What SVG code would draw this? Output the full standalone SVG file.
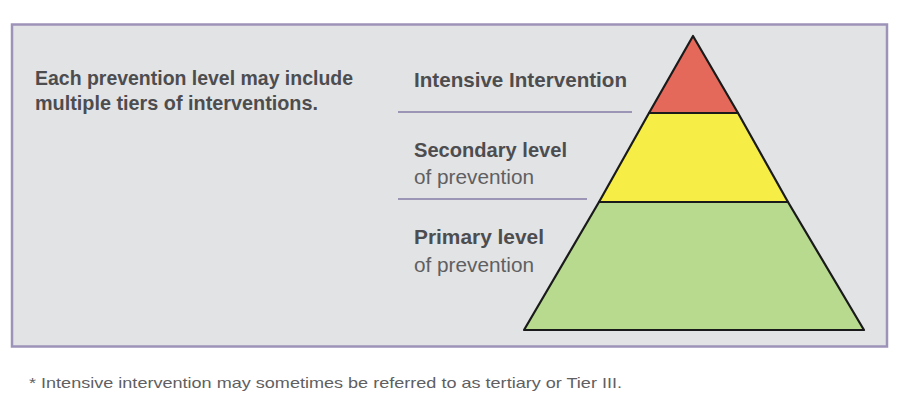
<svg xmlns="http://www.w3.org/2000/svg" width="903" height="401" viewBox="0 0 903 401">
<style>
.t{font-family:"Liberation Sans Narrow","Liberation Sans",Arial,sans-serif;fill:#555557}
.b{font-weight:bold;font-size:20.5px;fill:#4d4d4f}
.r{font-size:20px;fill:#5f5f61}
.f{font-size:14.5px;fill:#606062}
.tier{stroke:#1a1a1a;stroke-width:2.2;stroke-linejoin:round}
.rule{stroke:#9d95b5;stroke-width:2}
</style>
<rect x="0" y="0" width="903" height="401" fill="#ffffff"/>
<rect id="frame" x="12" y="24.5" width="875" height="322" fill="#e2e3e5" stroke="#9d93b8" stroke-width="2.5"/>
<g id="intro">
<text class="t b" x="35" y="85" textLength="318" lengthAdjust="spacingAndGlyphs">Each prevention level may include</text>
<text class="t b" x="35" y="110" textLength="283" lengthAdjust="spacingAndGlyphs">multiple tiers of interventions.</text>
</g>
<g id="connectors">
<line class="rule" x1="398" y1="112" x2="632" y2="112"/>
<line class="rule" x1="398" y1="199" x2="587" y2="199"/>
</g>
<g id="primary">
<polygon class="tier" points="599,202 788,202 864,330 524,330" fill="#b7da8f"/>
<text class="t b" x="414" y="244" textLength="130" lengthAdjust="spacingAndGlyphs">Primary level</text>
<text class="t r" x="414" y="272" textLength="120" lengthAdjust="spacingAndGlyphs">of prevention</text>
</g>
<g id="secondary">
<polygon class="tier" points="649,113 738,113 788,202 599,202" fill="#f6ee47"/>
<text class="t b" x="414" y="157" textLength="153" lengthAdjust="spacingAndGlyphs">Secondary level</text>
<text class="t r" x="414" y="184" textLength="120" lengthAdjust="spacingAndGlyphs">of prevention</text>
</g>
<g id="intensive">
<polygon class="tier" points="693,36 738,113 649,113" fill="#e5695b"/>
<text class="t b" x="414" y="87" textLength="213" lengthAdjust="spacingAndGlyphs">Intensive Intervention</text>
</g>
<g id="footnote">
<text class="t f" x="29" y="388" textLength="593" lengthAdjust="spacingAndGlyphs">* Intensive intervention may sometimes be referred to as tertiary or Tier III.</text>
</g>
</svg>
